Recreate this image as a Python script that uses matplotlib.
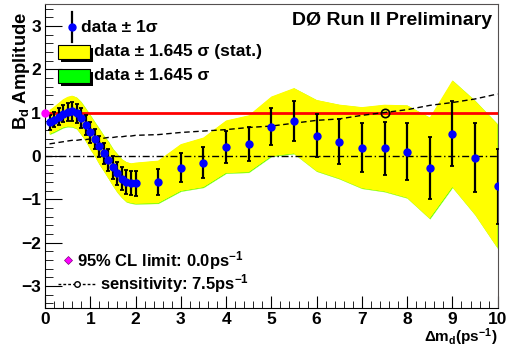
import matplotlib
matplotlib.use("Agg")
import matplotlib.pyplot as plt
import numpy as np
from matplotlib.patches import Rectangle
from matplotlib.lines import Line2D

plt.rcParams['font.family'] = ['Liberation Sans', 'DejaVu Sans']
plt.rcParams['font.weight'] = 'bold'
plt.rcParams['mathtext.fontset'] = 'custom'
plt.rcParams['mathtext.rm'] = 'Liberation Sans:bold'
plt.rcParams['mathtext.it'] = 'Liberation Sans:bold'
plt.rcParams['mathtext.bf'] = 'Liberation Sans:bold'

# amplitude scan data
dm_fine = [0.1, 0.2, 0.3, 0.4, 0.5, 0.6, 0.7, 0.8, 0.9, 1.0,
           1.1, 1.2, 1.3, 1.4, 1.5, 1.6, 1.7, 1.8, 1.9, 2.0]
amp_fine = [0.78, 0.84, 0.91, 0.98, 1.02, 1.03, 0.99, 0.87, 0.72, 0.55,
            0.39, 0.22, 0.06, -0.09, -0.26, -0.40, -0.52, -0.60, -0.63, -0.63]
err_fine = [0.17, 0.18, 0.19, 0.20, 0.21, 0.22, 0.22, 0.23, 0.23, 0.24,
            0.24, 0.25, 0.25, 0.26, 0.26, 0.27, 0.27, 0.28, 0.28, 0.29]

dm_coarse = [2.5, 3.0, 3.5, 4.0, 4.5, 5.0, 5.5, 6.0,
             6.5, 7.0, 7.5, 8.0, 8.5, 9.0, 9.5, 10.0]
amp_coarse = [-0.60, -0.27, -0.15, 0.21, 0.28, 0.68, 0.81, 0.47,
              0.33, 0.19, 0.18, 0.10, -0.28, 0.51, -0.04, -0.70]
err_coarse = [0.30, 0.33, 0.35, 0.37, 0.40, 0.42, 0.46, 0.50,
              0.52, 0.57, 0.61, 0.65, 0.71, 0.75, 0.80, 0.87]

cl_limit = 0.0
sensitivity = 7.5

dm = np.array(dm_fine + dm_coarse)
amp = np.array(amp_fine + amp_coarse)
err = np.array(err_fine + err_coarse)

fig = plt.figure(figsize=(5.11, 3.48), dpi=100)
ax = fig.add_axes([45/511, 1-307.7/348, 452.7/511, 303.4/348])

# bands
ax.fill_between(dm, amp - 1.645*err, amp + 1.645*err, facecolor='#00ff00',
                edgecolor='#d8ff60', lw=0.3, zorder=1)
ax.fill_between(dm, amp - 1.645*err, amp + 1.645*err, facecolor='#ffff00',
                edgecolor='none', zorder=2)

ax.axhline(0, color='black', lw=1, ls=(0, (5, 2, 1, 2)), zorder=3)
ax.axhline(1, color='#ff0000', lw=2, zorder=3)
ax.plot(dm, 1.645*err, color='black', lw=1, ls=(0, (4, 2.5)), zorder=3)

ax.errorbar(dm, amp, yerr=err, fmt='o', color='#0000ff', ms=5, mec='#0000ff',
            ecolor='black', elinewidth=1.6, capsize=1.3, capthick=1.3, zorder=4)

ax.plot([sensitivity], [1.0], 'o', mfc='none', mec='black', ms=6, mew=1.2, zorder=5)
ax.plot([cl_limit], [1.0], 'o', color='#ff00ff', ms=5, clip_on=False, zorder=6)

ax.set_xlim(0, 10)
ax.set_ylim(-3.5, 3.5)
ax.set_xticks(np.arange(0, 11, 1))
ax.set_xticks(np.arange(0, 10.01, 0.2), minor=True)
ax.set_yticks(np.arange(-3, 4, 1))
ax.set_yticks(np.arange(-3.4, 3.41, 0.2), minor=True)
ax.tick_params(which='both', direction='in', top=False, right=False,
               labelsize=12.5, pad=3)
ax.tick_params(axis='y', which='major', length=12)
ax.tick_params(axis='y', which='minor', length=6)
ax.tick_params(axis='x', which='major', length=9)
ax.tick_params(axis='x', which='minor', length=5)
for lab in ax.get_xticklabels() + ax.get_yticklabels():
    lab.set_fontweight('bold')
for s in ['top', 'right']:
    ax.spines[s].set_color('#555050')
ax.spines['left'].set_color('black')
ax.spines['bottom'].set_color('black')

# title and axis labels
ax.text(0.987, 0.948, 'DØ Run II Preliminary', transform=ax.transAxes,
        ha='right', va='center', fontsize=14, fontweight='bold')
fig.text(22/511, 1-12/348, r'B$_{d}$ Amplitude', rotation=90, ha='center',
         va='top', fontsize=13.2, fontweight='bold')
fig.text(498/511, 1-337/348, r'$\Delta$m$_{d}$(ps$^{-1}$)', ha='right',
         va='center', fontsize=11, fontweight='bold')

# legend (drawn by hand, ROOT style)
T = ax.transAxes
ax.add_line(Line2D([0.0596, 0.0596], [0.875, 0.975], color='black', lw=1.6,
                   transform=T, zorder=7))
ax.plot([0.0596], [0.925], 'o', color='#0000ff', ms=5, transform=T, zorder=8)
ax.text(0.080, 0.925, 'data ± 1σ', transform=T, ha='left', va='center',
        fontsize=12.5, fontweight='bold')
for y0, col, lab in [(0.819, '#ffff00', 'data ± 1.645 σ (stat.)'),
                     (0.740, '#00ff00', 'data ± 1.645 σ')]:
    ax.add_patch(Rectangle((0.0287 + 0.007, y0 - 0.010), 0.0707, 0.048,
                           transform=T, facecolor='black', edgecolor='none', zorder=7))
    ax.add_patch(Rectangle((0.0287, y0), 0.0707, 0.048, transform=T,
                           facecolor=col, edgecolor='black', lw=0.8, zorder=8))
    ax.text(0.108, y0 + 0.024, lab, transform=T, ha='left', va='center',
            fontsize=12.5, fontweight='bold')

ax.plot([0.0508], [0.157], 'D', color='#ff00ff', mec='#800080', mew=0.5, ms=4,
        transform=T, zorder=8)
ax.text(0.0707, 0.157, '95% CL limit: ' + '%.1f' % cl_limit + r'ps$^{-1}$',
        transform=T, ha='left', va='center', fontsize=12, fontweight='bold')
ax.add_line(Line2D([0.0287, 0.110], [0.078, 0.078], color='black', lw=1,
                   ls=(0, (2, 1.5)), transform=T, zorder=7))
ax.plot([0.0707], [0.078], 'o', mfc='white', mec='black', ms=4, mew=1,
        transform=T, zorder=8)
ax.text(0.1215, 0.078, 'sensitivity: ' + '%.1f' % sensitivity + r'ps$^{-1}$',
        transform=T, ha='left', va='center', fontsize=12, fontweight='bold')

fig.savefig('out.png', dpi=100)
